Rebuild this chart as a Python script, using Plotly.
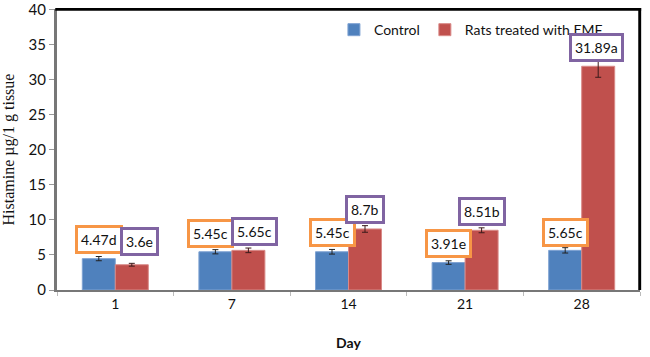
import plotly.graph_objects as go

days = ["1", "7", "14", "21", "28"]
control = [4.47, 5.45, 5.45, 3.91, 5.65]
control_err = [0.30, 0.30, 0.33, 0.25, 0.38]
control_lbl = ["4.47d", "5.45c", "5.45c", "3.91e", "5.65c"]
emf = [3.60, 5.65, 8.70, 8.51, 31.89]
emf_err = [0.20, 0.33, 0.47, 0.35, 1.57]
emf_lbl = ["3.6e", "5.65c", "8.7b", "8.51b", "31.89a"]
y_ticks = [0, 5, 10, 15, 20, 25, 30, 35, 40]

BLUE = "#4F81BD"
RED = "#C0504D"
ORANGE = "#F79646"
PURPLE = "#8064A2"
FONT = "Lato"

fig = go.Figure()
fig.add_trace(go.Bar(
    name="Control", x=days, y=control,
    marker=dict(color=BLUE, line=dict(color="#7FA3D3", width=1)),
    error_y=dict(type="data", array=control_err, color="#222222", thickness=1, width=3),
))
fig.add_trace(go.Bar(
    name="Rats treated with EMF", x=days, y=emf,
    marker=dict(color=RED, line=dict(color="#D98A88", width=1)),
    error_y=dict(type="data", array=emf_err, color="#3a1a1a", thickness=1, width=3),
))

# label nudges (pixels)
c_dx = [0, -5, 0, 0, 0]
c_dy = [3, 2, 2, 3, 1]
e_dx = [8, 6, 0, 0, -2]
e_dy = [7, 2, 2, 2, -7]

half = 16.5
for i, d in enumerate(days):
    fig.add_annotation(
        x=i, y=control[i] + control_err[i], xref="x", yref="y",
        text=control_lbl[i], showarrow=False, yanchor="bottom",
        xshift=-half + c_dx[i], yshift=c_dy[i],
        bgcolor="white", bordercolor=ORANGE, borderwidth=3, borderpad=3,
        font=dict(family=FONT, size=14, color="#111111"),
    )
    fig.add_annotation(
        x=i, y=emf[i] + emf_err[i], xref="x", yref="y",
        text=emf_lbl[i], showarrow=False, yanchor="bottom",
        xshift=half + e_dx[i], yshift=e_dy[i],
        bgcolor="white", bordercolor=PURPLE, borderwidth=3, borderpad=3,
        font=dict(family=FONT, size=14, color="#111111"),
    )

# frame top and right (black filled strips)
fig.add_shape(type="rect", xref="paper", yref="paper", x0=-0.003, x1=1.002,
              y0=0.994, y1=1.004, fillcolor="black", line=dict(width=0), layer="above")
fig.add_shape(type="rect", xref="paper", yref="paper", x0=0.997, x1=1.002,
              y0=0, y1=1.004, fillcolor="black", line=dict(width=0), layer="above")

fig.update_layout(
    width=650, height=357,
    margin=dict(l=57, r=10, t=9, b=67, autoexpand=False),
    paper_bgcolor="white", plot_bgcolor="white",
    barmode="group", bargap=0.434, bargroupgap=0,
    font=dict(family=FONT, size=14, color="#111111"),
    showlegend=True,
    legend=dict(orientation="h", x=0.475, y=0.925, xanchor="left", yanchor="middle",
                bgcolor="rgba(0,0,0,0)", font=dict(family=FONT, size=14),
                itemwidth=30),
    xaxis=dict(
        type="category", showline=True, linecolor="#777777", linewidth=2,
        ticks="outside", tickson="boundaries", ticklen=4, tickcolor="#BBBBBB",
        showgrid=False, tickfont=dict(family=FONT, size=14), tickangle=0,
        automargin=False,
        title=dict(text="<b>Day</b>", font=dict(family=FONT, size=14), standoff=27),
    ),
    yaxis=dict(
        range=[0, 40.05], tickmode="array", tickvals=y_ticks,
        showline=True, linecolor="#777777", linewidth=3, ticklabeloverflow="allow",
        ticks="outside", ticklen=5, tickcolor="#999999", showgrid=False, zeroline=False,
        tickfont=dict(family=FONT, size=15), automargin=False,
        title=dict(text="Histamine µg/1 g tissue",
                   font=dict(family="Liberation Serif", size=16), standoff=12),
    ),
)

fig.write_html("out.html", config={"displayModeBar": False},
               post_script="document.body.style.margin='0';")
